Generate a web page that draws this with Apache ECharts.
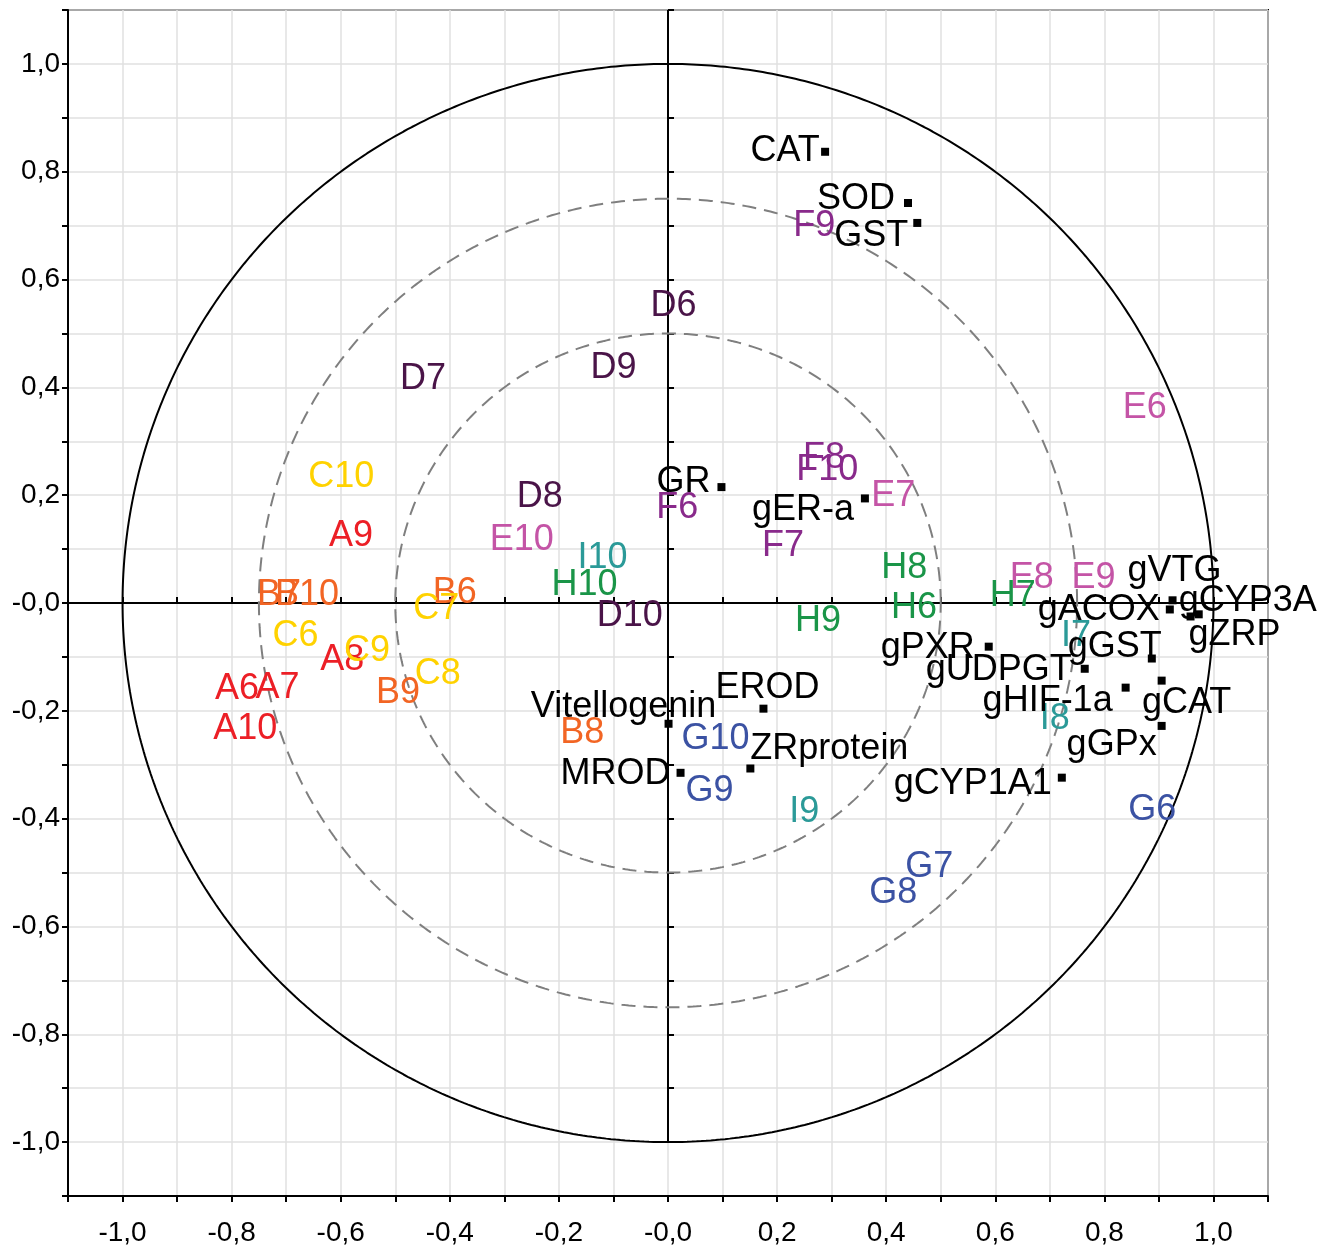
<!DOCTYPE html>
<html>
<head>
<meta charset="utf-8">
<script src="https://cdn.jsdelivr.net/npm/echarts@6/dist/echarts.min.js"></script>
<style>
html,body{margin:0;padding:0;background:#fff;}
#chart{width:1333px;height:1254px;}
</style>
</head>
<body>
<div id="chart"></div>
<script>
// ---- Data ----
// Sample score groups: [label, x, y]
const samplesA = [['A6',-0.790,-0.159],['A7',-0.716,-0.157],['A8',-0.597,-0.105],['A9',-0.581,0.124],['A10',-0.775,-0.233]];
const samplesB = [['B6',-0.391,0.018],['B7',-0.713,0.014],['B8',-0.157,-0.242],['B9',-0.495,-0.168],['B10',-0.662,0.014]];
const samplesC = [['C6',-0.683,-0.062],['C7',-0.425,-0.012],['C8',-0.422,-0.131],['C9',-0.552,-0.090],['C10',-0.599,0.233]];
const samplesD = [['D6',0.010,0.551],['D7',-0.449,0.415],['D8',-0.235,0.196],['D9',-0.100,0.436],['D10',-0.070,-0.025]];
const samplesE = [['E6',0.874,0.361],['E7',0.413,0.198],['E8',0.667,0.047],['E9',0.780,0.047],['E10',-0.268,0.116]];
const samplesF = [['F6',0.017,0.177],['F7',0.211,0.105],['F8',0.286,0.268],['F9',0.268,0.699],['F10',0.292,0.246]];
const samplesG = [['G6',0.888,-0.385],['G7',0.479,-0.489],['G8',0.413,-0.538],['G9',0.076,-0.348],['G10',0.087,-0.252]];
const samplesH = [['H6',0.451,-0.010],['H7',0.632,0.012],['H8',0.433,0.064],['H9',0.275,-0.033],['H10',-0.153,0.034]];
const samplesI = [['I7',0.748,-0.062],['I8',0.709,-0.216],['I9',0.250,-0.387],['I10',-0.120,0.083]];

// Variable loadings
const varNames = ['CAT','SOD','GST','GR','gER-a','EROD','Vitellogenin','MROD','ZRprotein','gCYP1A1','gPXR','gUDPGT','gHIF-1a','gGST','gCAT','gGPx','gVTG','gACOX','gZRP','gCYP3A'];
const varX = [0.288,0.440,0.457,0.098,0.361,0.175,0.001,0.023,0.151,0.722,0.588,0.764,0.839,0.887,0.905,0.905,0.925,0.920,0.958,0.973];
const varY = [0.837,0.742,0.705,0.215,0.194,-0.196,-0.224,-0.315,-0.307,-0.324,-0.081,-0.122,-0.157,-0.103,-0.144,-0.228,0.005,-0.012,-0.025,-0.021];

// Axis tick labels
const tickValues = [-1.0,-0.8,-0.6,-0.4,-0.2,0.0,0.2,0.4,0.6,0.8,1.0];
const tickLabels = ['-1,0','-0,8','-0,6','-0,4','-0,2','-0,0','0,2','0,4','0,6','0,8','1,0'];

// Reference circle radii
const circleRadii = [1.0, 0.75, 0.5];

// ---- Styling (not data) ----
const groupColors = {
  A:'#ec1f26', B:'#f26524', C:'#ffd200', D:'#4a1448', E:'#c454a6',
  F:'#892a8b', G:'#3b52a3', H:'#1a9548', I:'#2b9a98'
};
// label offsets (px) of variable names relative to their square marker
const varLabelOffsets = [[-40,-4],[-52,-7],[-46,10],[-38,-8],[-62,9],[4,-24],[-45,-20],[-65,-2],[79,-22],[-89,3],
  [-61,-2],[-86,-2],[-78,10],[-37,-14],[25,19],[-50,16],[2,-32],[-71,-2],[44,16],[49,-16]];
const LABEL_DY = 3;

const FONT = '"Liberation Sans", Arial, sans-serif';
const LABEL_SIZE = 36;

function tickFmt(v){
  const k = Math.round(v*10);
  for (let i=0;i<tickValues.length;i++){
    if (Math.round(tickValues[i]*10) === k) return tickLabels[i];
  }
  return '';
}

function circlePts(r){
  const pts = [];
  for (let i=0;i<=720;i++){
    const a = i/720*2*Math.PI;
    pts.push([r*Math.cos(a), r*Math.sin(a)]);
  }
  return pts;
}

const series = [];
// zero lines
series.push({type:'line', data:[[-1.1,0],[1.1,0]], symbol:'none', silent:true, z:2,
  lineStyle:{color:'#000', width:2}});
series.push({type:'line', data:[[0,-1.0],[0,1.1]], symbol:'none', silent:true, z:2,
  lineStyle:{color:'#000', width:2}});
// circles
circleRadii.forEach(function(r, i){
  series.push({type:'line', data:circlePts(r), symbol:'none', silent:true, z:2,
    lineStyle: i===0 ? {color:'#000', width:2} : {color:'#7f7f7f', width:2, type:[14,8]}});
});

const groups = [['A',samplesA],['B',samplesB],['C',samplesC],['D',samplesD],['E',samplesE],
  ['F',samplesF],['G',samplesG],['H',samplesH],['I',samplesI]];
groups.forEach(function(g){
  series.push({
    type:'scatter', name:g[0], z:5, silent:true,
    symbolSize:1, itemStyle:{color:'rgba(0,0,0,0)', opacity:1},
    data:g[1].map(function(d){
      return {name:d[0], value:[d[1], d[2]], label:{offset:[0, LABEL_DY]}};
    }),
    label:{show:true, position:'inside', formatter:'{b}', color:groupColors[g[0]],
      opacity:1, textBorderWidth:0, textBorderColor:'transparent',
      fontSize:LABEL_SIZE, fontFamily:FONT},
    labelLayout:{hideOverlap:false}
  });
});

series.push({
  type:'scatter', name:'vars', z:6, silent:true,
  symbol:'rect', symbolSize:8, itemStyle:{color:'#000', opacity:1},
  data:varNames.map(function(n,i){
    return {name:n, value:[varX[i], varY[i]],
      label:{offset:[varLabelOffsets[i][0], varLabelOffsets[i][1] + LABEL_DY]}};
  }),
  label:{show:true, position:'inside', formatter:'{b}', color:'#000', opacity:1,
    textBorderWidth:0, textBorderColor:'transparent',
    fontSize:LABEL_SIZE, fontFamily:FONT}
});

const axisCommon = {
  type:'value', min:-1.1, max:1.1, interval:0.1,
  axisLine:{show:true, onZero:false, lineStyle:{color:'#000', width:2}},
  splitLine:{show:true, lineStyle:{color:'#e0e0e0', width:1.5}}
};

const chart = echarts.init(document.getElementById('chart'), null, {renderer:'canvas'});
chart.setOption({
  animation:false,
  backgroundColor:'#fff',
  grid:{left:68, top:10, width:1200, height:1186, show:true, borderColor:'#000', borderWidth:2, backgroundColor:'transparent'},
  xAxis:[
    Object.assign({}, axisCommon, {position:'bottom',
      axisTick:{show:true, inside:false, length:6, lineStyle:{color:'#000', width:2}},
      axisLabel:{show:true, formatter:tickFmt, fontSize:28, fontFamily:FONT, color:'#000', margin:23,
        showMinLabel:true, showMaxLabel:true, hideOverlap:false}}),
    Object.assign({}, axisCommon, {position:'bottom', axisLine:{show:false}, splitLine:{show:false},
      axisTick:{show:true, inside:true, length:6, lineStyle:{color:'#000', width:2}},
      axisLabel:{show:false}})
  ],
  yAxis:[
    Object.assign({}, axisCommon, {position:'left',
      axisTick:{show:true, inside:false, length:6, lineStyle:{color:'#000', width:2}},
      axisLabel:{show:true, formatter:tickFmt, fontSize:28, fontFamily:FONT, color:'#000', margin:8,
        showMinLabel:true, showMaxLabel:true, hideOverlap:false}}),
    Object.assign({}, axisCommon, {position:'left', axisLine:{show:false}, splitLine:{show:false},
      axisTick:{show:true, inside:true, length:6, lineStyle:{color:'#000', width:2}},
      axisLabel:{show:false}})
  ],
  series: series
});
</script>
</body>
</html>
